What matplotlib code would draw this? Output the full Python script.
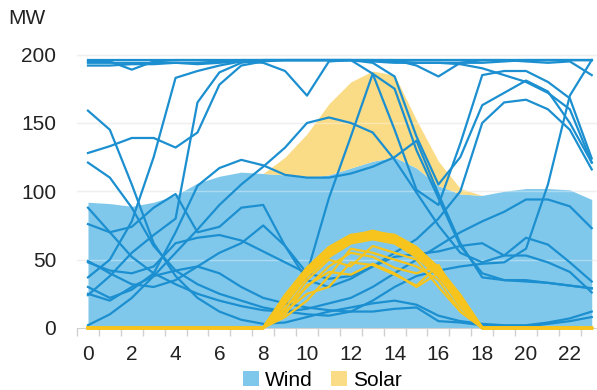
import matplotlib
matplotlib.use("Agg")
import matplotlib.pyplot as plt
from matplotlib.patches import Patch
import numpy as np

hours = list(range(24))
xtick_labels = ["0", "2", "4", "6", "8", "10", "12", "14", "16", "18", "20", "22"]
yticks = [0, 50, 100, 150, 200]

# Filled bands (MW)
wind_band = [92, 91, 89, 92, 97, 106, 111, 114, 113, 112, 110, 112, 117, 122, 125, 117, 104, 98, 97, 100, 102, 102, 101, 94]
solar_band = [0, 0, 0, 0, 0, 0, 0, 0, 0, 13, 32, 52, 63, 66, 60, 35, 18, 4, 0, 0, 0, 0, 0, 0]

# Wind scenarios (MW)
wind_1 = [196] * 24
wind_2 = [195, 195, 189, 195, 196, 196, 196, 196, 196, 196, 196, 196, 196, 196, 196, 196, 196, 196, 196, 196, 196, 196, 196, 196]
wind_3 = [194, 194, 194, 194, 194, 193, 194, 195, 194, 188, 170, 195, 196, 195, 194, 194, 194, 194, 194, 195, 196, 196, 196, 196]
wind_4 = [192, 192, 193, 193, 194, 194, 195, 196, 196, 196, 196, 196, 196, 196, 196, 192, 184, 194, 196, 196, 195, 194, 195, 185]
wind_5 = [159, 145, 105, 62, 38, 22, 12, 6, 3, 4, 8, 12, 15, 18, 20, 17, 9, 5, 3, 2, 2, 4, 7, 12]
wind_6 = [128, 133, 139, 139, 132, 143, 178, 192, 195, 196, 196, 196, 196, 196, 195, 194, 194, 193, 190, 185, 180, 172, 160, 121]
wind_7 = [121, 110, 88, 60, 42, 32, 25, 20, 15, 12, 10, 9, 12, 20, 30, 38, 42, 45, 47, 48, 58, 105, 170, 196]
wind_8 = [88, 70, 52, 40, 32, 25, 20, 16, 13, 12, 14, 18, 22, 30, 40, 50, 60, 70, 78, 85, 94, 94, 89, 73]
wind_9 = [37, 50, 78, 125, 183, 188, 192, 195, 196, 196, 196, 196, 196, 186, 145, 101, 90, 135, 185, 188, 188, 180, 168, 124]
wind_10 = [24, 38, 55, 68, 80, 165, 187, 194, 196, 196, 196, 196, 196, 194, 184, 140, 105, 125, 163, 172, 181, 173, 150, 121]
wind_11 = [49, 40, 32, 30, 35, 45, 55, 62, 75, 60, 40, 95, 140, 186, 175, 130, 95, 60, 40, 35, 35, 33, 31, 29]
wind_12 = [76, 70, 74, 88, 98, 70, 74, 88, 90, 60, 35, 30, 36, 45, 52, 54, 56, 60, 62, 53, 66, 61, 48, 34]
wind_13 = [2, 10, 22, 38, 55, 72, 90, 105, 118, 132, 150, 154, 150, 143, 123, 99, 75, 55, 48, 53, 53, 48, 41, 26]
wind_14 = [48, 42, 40, 45, 62, 66, 68, 64, 56, 48, 40, 36, 38, 45, 55, 65, 80, 100, 150, 165, 167, 160, 145, 116]
wind_15 = [30, 22, 28, 40, 70, 104, 117, 123, 119, 112, 110, 110, 113, 118, 125, 137, 98, 62, 37, 35, 34, 33, 31, 29]
wind_16 = [25, 20, 30, 38, 42, 45, 40, 30, 22, 18, 15, 13, 12, 12, 14, 15, 5, 4, 2, 1, 1, 3, 5, 8]

wind_lines = [wind_1, wind_2, wind_3, wind_4, wind_5, wind_6, wind_7, wind_8,
              wind_9, wind_10, wind_11, wind_12, wind_13, wind_14, wind_15, wind_16]

# Solar scenarios (MW)
solar_1 = [0] * 9 + [22, 42, 57, 66, 69, 66, 57, 42, 22] + [0] * 6
solar_2 = [0] * 9 + [20, 40, 55, 64, 67, 64, 55, 40, 20] + [0] * 6
solar_3 = [0] * 9 + [24, 44, 59, 68, 70, 68, 59, 44, 24] + [0] * 6
solar_4 = [0] * 9 + [18, 38, 52, 62, 65, 62, 52, 38, 18] + [0] * 6
solar_5 = [0] * 9 + [21, 41, 56, 65, 68, 65, 56, 41, 21] + [0] * 6
solar_6 = [0] * 9 + [15, 30, 45, 55, 52, 44, 40, 46, 20] + [0] * 6
solar_7 = [0] * 9 + [10, 31, 41, 39, 47, 40, 30, 40, 15] + [0] * 6
solar_8 = [0] * 9 + [12, 25, 30, 48, 46, 39, 31, 46, 18] + [0] * 6
solar_9 = [0] * 9 + [8, 20, 38, 58, 55, 50, 45, 35, 12] + [0] * 6
solar_10 = [0] * 9 + [14, 35, 50, 45, 60, 55, 50, 30, 12] + [0] * 6
solar_11 = [0] * 9 + [23, 43, 58, 67, 71, 67, 58, 43, 23] + [0] * 6
solar_12 = [0] * 9 + [19, 39, 54, 63, 66, 63, 54, 39, 19] + [0] * 6

solar_lines = [solar_1, solar_2, solar_3, solar_4, solar_5, solar_11, solar_12,
               solar_6, solar_7, solar_8, solar_9, solar_10]

AREA_BLUE = "#80C8EB"
AREA_YELLOW = "#FADB86"
LINE_BLUE = "#1B8FD0"
LINE_YELLOW = "#F7C41E"
GRID = "#DADADA"

plt.rcParams["font.family"] = ["Liberation Sans", "DejaVu Sans"]

fig = plt.figure(figsize=(5.97, 3.90), dpi=100)
ax = fig.add_axes([0.129, 0.1538, 0.871, 0.7167])

x = np.array(hours)
wb = np.array(wind_band)
sb = np.array(solar_band)
ax.fill_between(x, 0, wb, color=AREA_BLUE, lw=0, zorder=1)
ax.fill_between(x, wb, wb + sb, color=AREA_YELLOW, lw=0, zorder=1)

for v in yticks[1:]:
    ax.axhline(v, color="white", alpha=0.35, lw=1.0, zorder=1.5)
    ax.axhline(v, color=GRID, alpha=0.6, lw=1.0, zorder=0.5)

for s in wind_lines:
    ax.plot(x, s, color=LINE_BLUE, lw=1.6, zorder=3)
for i, s in enumerate(solar_lines):
    ax.plot(x, s, color=LINE_YELLOW, lw=2.0 if i < 7 else 1.6, zorder=4, clip_on=False)

ax.set_xlim(-0.5, 23.24)
ax.set_ylim(-1.5, 203)
ax.set_yticks(yticks)
ax.set_xticks(list(range(0, 24, 2)))
ax.set_xticklabels(xtick_labels)
ax.set_xticks(np.arange(-0.5, 23.5, 1), minor=True)
ax.tick_params(axis="both", which="major", length=0, labelsize=15, colors="#222222")
ax.tick_params(axis="y", pad=15)
ax.tick_params(axis="x", which="major", pad=12)
ax.tick_params(axis="x", which="minor", length=6, color="#D0D0D0", width=1)

for side in ["top", "right", "left"]:
    ax.spines[side].set_visible(False)
ax.spines["bottom"].set_color("#D0D0D0")
ax.spines["bottom"].set_position(("data", 0))

fig.text(0.013, 0.953, "MW", fontsize=15, ha="left", va="center", color="#222222")

handles = [Patch(facecolor=AREA_BLUE, edgecolor="none", label="Wind"),
           Patch(facecolor=AREA_YELLOW, edgecolor="none", label="Solar")]
fig.legend(handles=handles, loc="center", bbox_to_anchor=(0.54, 0.025), ncol=2, frameon=False,
           fontsize=15, handlelength=0.75, handleheight=0.75, handletextpad=0.3,
           columnspacing=0.9, borderpad=0)

fig.savefig("out.png", dpi=100)
